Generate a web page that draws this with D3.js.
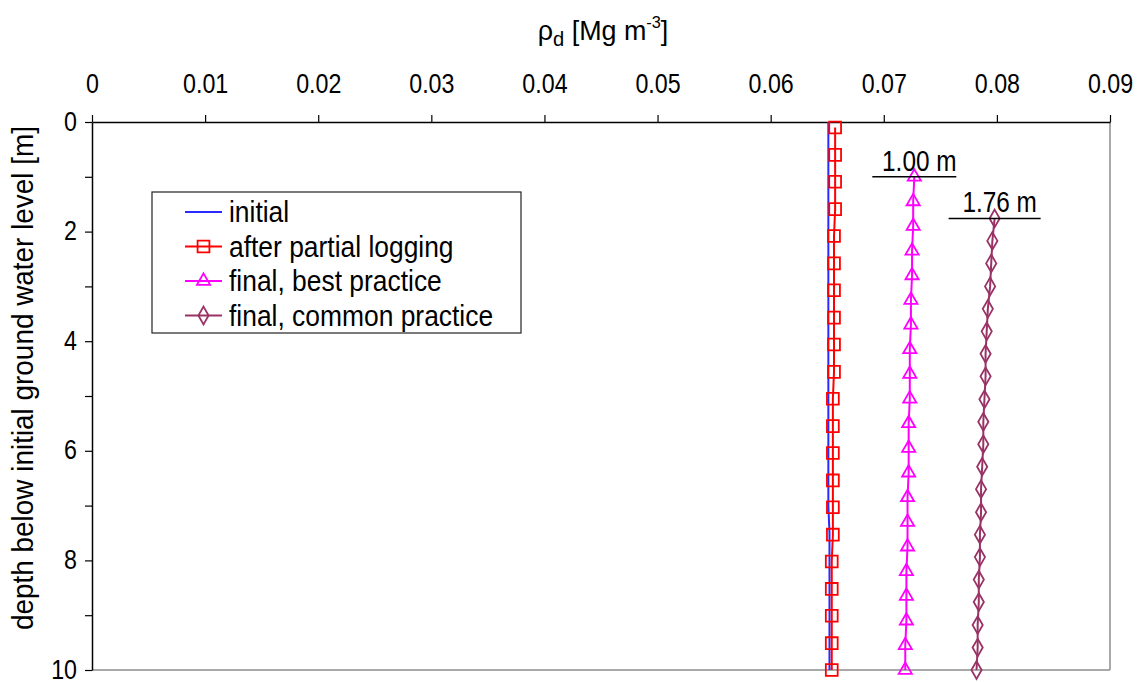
<!DOCTYPE html>
<html>
<head>
<meta charset="utf-8">
<script src="https://cdn.jsdelivr.net/npm/d3@7"></script>
<style>
  html, body { margin: 0; padding: 0; background: #fff; }
  svg text { font-family: "Liberation Sans", Arial, sans-serif; fill: #000; }
</style>
</head>
<body>
<svg id="chart" width="1137" height="682"></svg>
<script>
// Dry density profiles (ρd, Mg m^-3) against depth below the initial ground water level (m)
const xTicks = [0, 0.01, 0.02, 0.03, 0.04, 0.05, 0.06, 0.07, 0.08, 0.09];
const xTickLabels = ["0", "0.01", "0.02", "0.03", "0.04", "0.05", "0.06", "0.07", "0.08", "0.09"];
const yTicks = [0, 1, 2, 3, 4, 5, 6, 7, 8, 9, 10];
const yTickLabels = ["0", "", "2", "", "4", "", "6", "", "8", "", "10"];

const initialDepth = [0, 0.5, 1, 1.5, 2, 2.5, 3, 3.5, 4, 4.5, 5, 5.5, 6, 6.5, 7, 7.5, 8, 8.5, 9, 9.5, 10];
const initialRho   = [0.0651, 0.0651, 0.0651, 0.0651, 0.0651, 0.0651, 0.0651, 0.0651, 0.0651, 0.0651, 0.0651,
                      0.0651, 0.0651, 0.0651, 0.0651, 0.0652, 0.0652, 0.0652, 0.0652, 0.0652, 0.0652];

const partialDepth = [0.10, 0.60, 1.09, 1.59, 2.08, 2.58, 3.07, 3.57, 4.06, 4.56, 5.05,
                      5.55, 6.04, 6.54, 7.03, 7.53, 8.02, 8.52, 9.01, 9.51, 10.00];
const partialRho   = [0.0657, 0.0657, 0.0657, 0.0657, 0.0656, 0.0656, 0.0656, 0.0656, 0.0656, 0.0656, 0.0655,
                      0.0655, 0.0655, 0.0655, 0.0655, 0.0655, 0.0654, 0.0654, 0.0654, 0.0654, 0.0654];

const bestDepth = [1.00, 1.45, 1.90, 2.35, 2.80, 3.25, 3.70, 4.15, 4.60, 5.05, 5.50,
                   5.95, 6.40, 6.85, 7.30, 7.75, 8.20, 8.65, 9.10, 9.55, 10.00];
const bestRho   = [0.0727, 0.0726, 0.0726, 0.0725, 0.0725, 0.0724, 0.0724, 0.0723, 0.0723, 0.0723, 0.0722,
                   0.0722, 0.0722, 0.0721, 0.0721, 0.0721, 0.0720, 0.0720, 0.0720, 0.0719, 0.0719];

const commonDepth = [1.76, 2.17, 2.58, 3.00, 3.41, 3.82, 4.23, 4.64, 5.06, 5.47, 5.88,
                     6.29, 6.70, 7.12, 7.53, 7.94, 8.35, 8.76, 9.18, 9.59, 10.00];
const commonRho   = [0.0798, 0.0796, 0.0795, 0.0794, 0.0792, 0.0791, 0.0790, 0.0790, 0.0789, 0.0788, 0.0788,
                     0.0787, 0.0786, 0.0786, 0.0785, 0.0785, 0.0784, 0.0784, 0.0783, 0.0783, 0.0782];

const seriesNames = ["initial", "after partial logging", "final, best practice", "final, common practice"];
const surfaceLabels = ["1.00 m", "1.76 m"];

const zip = (d, r) => d.map((v, i) => ({ depth: v, rho: r[i] }));
const series = [
  { name: seriesNames[0], data: zip(initialDepth, initialRho), color: "#2a2aff", marker: null },
  { name: seriesNames[1], data: zip(partialDepth, partialRho), color: "#ff0000", marker: "square" },
  { name: seriesNames[2], data: zip(bestDepth, bestRho),       color: "#ff00ff", marker: "triangle" },
  { name: seriesNames[3], data: zip(commonDepth, commonRho),   color: "#993366", marker: "diamond" }
];

const svg = d3.select("#chart");
const plotLeft = 92, plotRight = 1110, plotTop = 122, plotBottom = 670;

// narrow lettering: squeeze each text horizontally by a fixed factor
function narrow(sel, k) {
  sel.each(function () {
    const w = this.getComputedTextLength();
    if (w > 0) d3.select(this).attr("textLength", w * k).attr("lengthAdjust", "spacingAndGlyphs");
  });
}

const x = d3.scaleLinear().domain([0, 0.09]).range([plotLeft, plotRight]);
const y = d3.scaleLinear().domain([0, 10]).range([plotTop, plotBottom]);

// plot frame: bottom and right edges are light grey
svg.append("line").attr("x1", plotLeft).attr("x2", plotRight).attr("y1", plotBottom).attr("y2", plotBottom)
  .attr("stroke", "#8c8c8c").attr("stroke-width", 1.5);
svg.append("line").attr("x1", plotRight).attr("x2", plotRight).attr("y1", plotTop).attr("y2", plotBottom)
  .attr("stroke", "#8c8c8c").attr("stroke-width", 1.5);

const tickK = 0.86;

// top axis
const xAxis = d3.axisTop(x).tickValues(xTicks)
  .tickFormat((d, i) => xTickLabels[i]).tickSize(7).tickSizeOuter(0).tickPadding(22);
const gx = svg.append("g").attr("transform", `translate(0,${plotTop})`).call(xAxis);
gx.select(".domain").attr("stroke", "#000").attr("stroke-width", 1.5);
gx.selectAll(".tick line").attr("stroke", "#000").attr("stroke-width", 1.2);
gx.selectAll(".tick text").attr("font-size", 27).attr("font-family", null).call(narrow, tickK);

// left axis
const yAxis = d3.axisLeft(y).tickValues(yTicks)
  .tickFormat((d, i) => yTickLabels[i]).tickSize(7).tickSizeOuter(0).tickPadding(8);
const gy = svg.append("g").attr("transform", `translate(${plotLeft},0)`).call(yAxis);
gy.select(".domain").attr("stroke", "#000").attr("stroke-width", 1.5);
gy.selectAll(".tick line").attr("stroke", "#000").attr("stroke-width", 1.2);
gy.selectAll(".tick text").attr("font-size", 27).attr("font-family", null).attr("dy", "0.3em").call(narrow, tickK);

// axis titles
const titleG = svg.append("g").attr("transform", `translate(${(plotLeft + plotRight) / 2 + 2},40) scale(0.96,1)`);
const title = titleG.append("text").attr("text-anchor", "middle").attr("font-size", 28);
title.append("tspan").text("ρ");
title.append("tspan").text("d").attr("font-size", 21).attr("dy", 6);
title.append("tspan").text(" [Mg m").attr("dy", -6);
title.append("tspan").text("-3").attr("font-size", 17).attr("dy", -12);
title.append("tspan").text("]").attr("dy", 12);

svg.append("text")
  .attr("transform", `translate(33,${(plotTop + plotBottom) / 2 - 18}) rotate(-90)`)
  .attr("text-anchor", "middle").attr("font-size", 30)
  .text("depth below initial ground water level [m]")
  .call(narrow, 0.93);

// marker shapes
const symbolFor = {
  square: d3.symbol().type(d3.symbolSquare).size(140),
  triangle: d3.symbol().type(d3.symbolTriangle).size(75),
  diamond: d3.symbol().type(d3.symbolDiamond).size(90)
};

const line = d3.line().x(d => x(d.rho)).y(d => y(d.depth));

series.forEach(s => {
  const g = svg.append("g");
  g.append("path").datum(s.data).attr("d", line)
    .attr("fill", "none").attr("stroke", s.color).attr("stroke-width", 2);
  if (s.marker) {
    g.selectAll("path.m").data(s.data).join("path").attr("class", "m")
      .attr("transform", d => `translate(${x(d.rho)},${y(d.depth)})`)
      .attr("d", symbolFor[s.marker]())
      .attr("fill", "none").attr("stroke", s.color).attr("stroke-width", 1.8);
  }
});

// surface level annotations at the top of the two final profiles
const surfaces = [
  { label: surfaceLabels[0], pt: series[2].data[0], half: 42 },
  { label: surfaceLabels[1], pt: series[3].data[0], half: 46 }
];
surfaces.forEach(s => {
  const cx = x(s.pt.rho), cy = y(s.pt.depth);
  svg.append("line").attr("x1", cx - s.half).attr("x2", cx + s.half)
    .attr("y1", cy).attr("y2", cy).attr("stroke", "#000").attr("stroke-width", 1.5);
  svg.append("text").attr("x", cx + 5).attr("y", cy - 6)
    .attr("text-anchor", "middle").attr("font-size", 29).text(s.label)
    .call(narrow, 0.84);
});

// legend
const lg = svg.append("g").attr("transform", "translate(152,192)");
lg.append("rect").attr("width", 369).attr("height", 141)
  .attr("fill", "#fff").attr("stroke", "#222").attr("stroke-width", 1.2);
series.forEach((s, i) => {
  const ry = 20 + i * 34.5;
  lg.append("line").attr("x1", 33).attr("x2", 70).attr("y1", ry).attr("y2", ry)
    .attr("stroke", s.color).attr("stroke-width", 2);
  if (s.marker) {
    lg.append("path").attr("transform", `translate(51.5,${ry})`)
      .attr("d", symbolFor[s.marker]())
      .attr("fill", "none").attr("stroke", s.color).attr("stroke-width", 1.8);
  }
  lg.append("text").attr("x", 77).attr("y", ry + 10).attr("font-size", 30).text(s.name)
    .call(narrow, 0.88);
});
</script>
</body>
</html>
